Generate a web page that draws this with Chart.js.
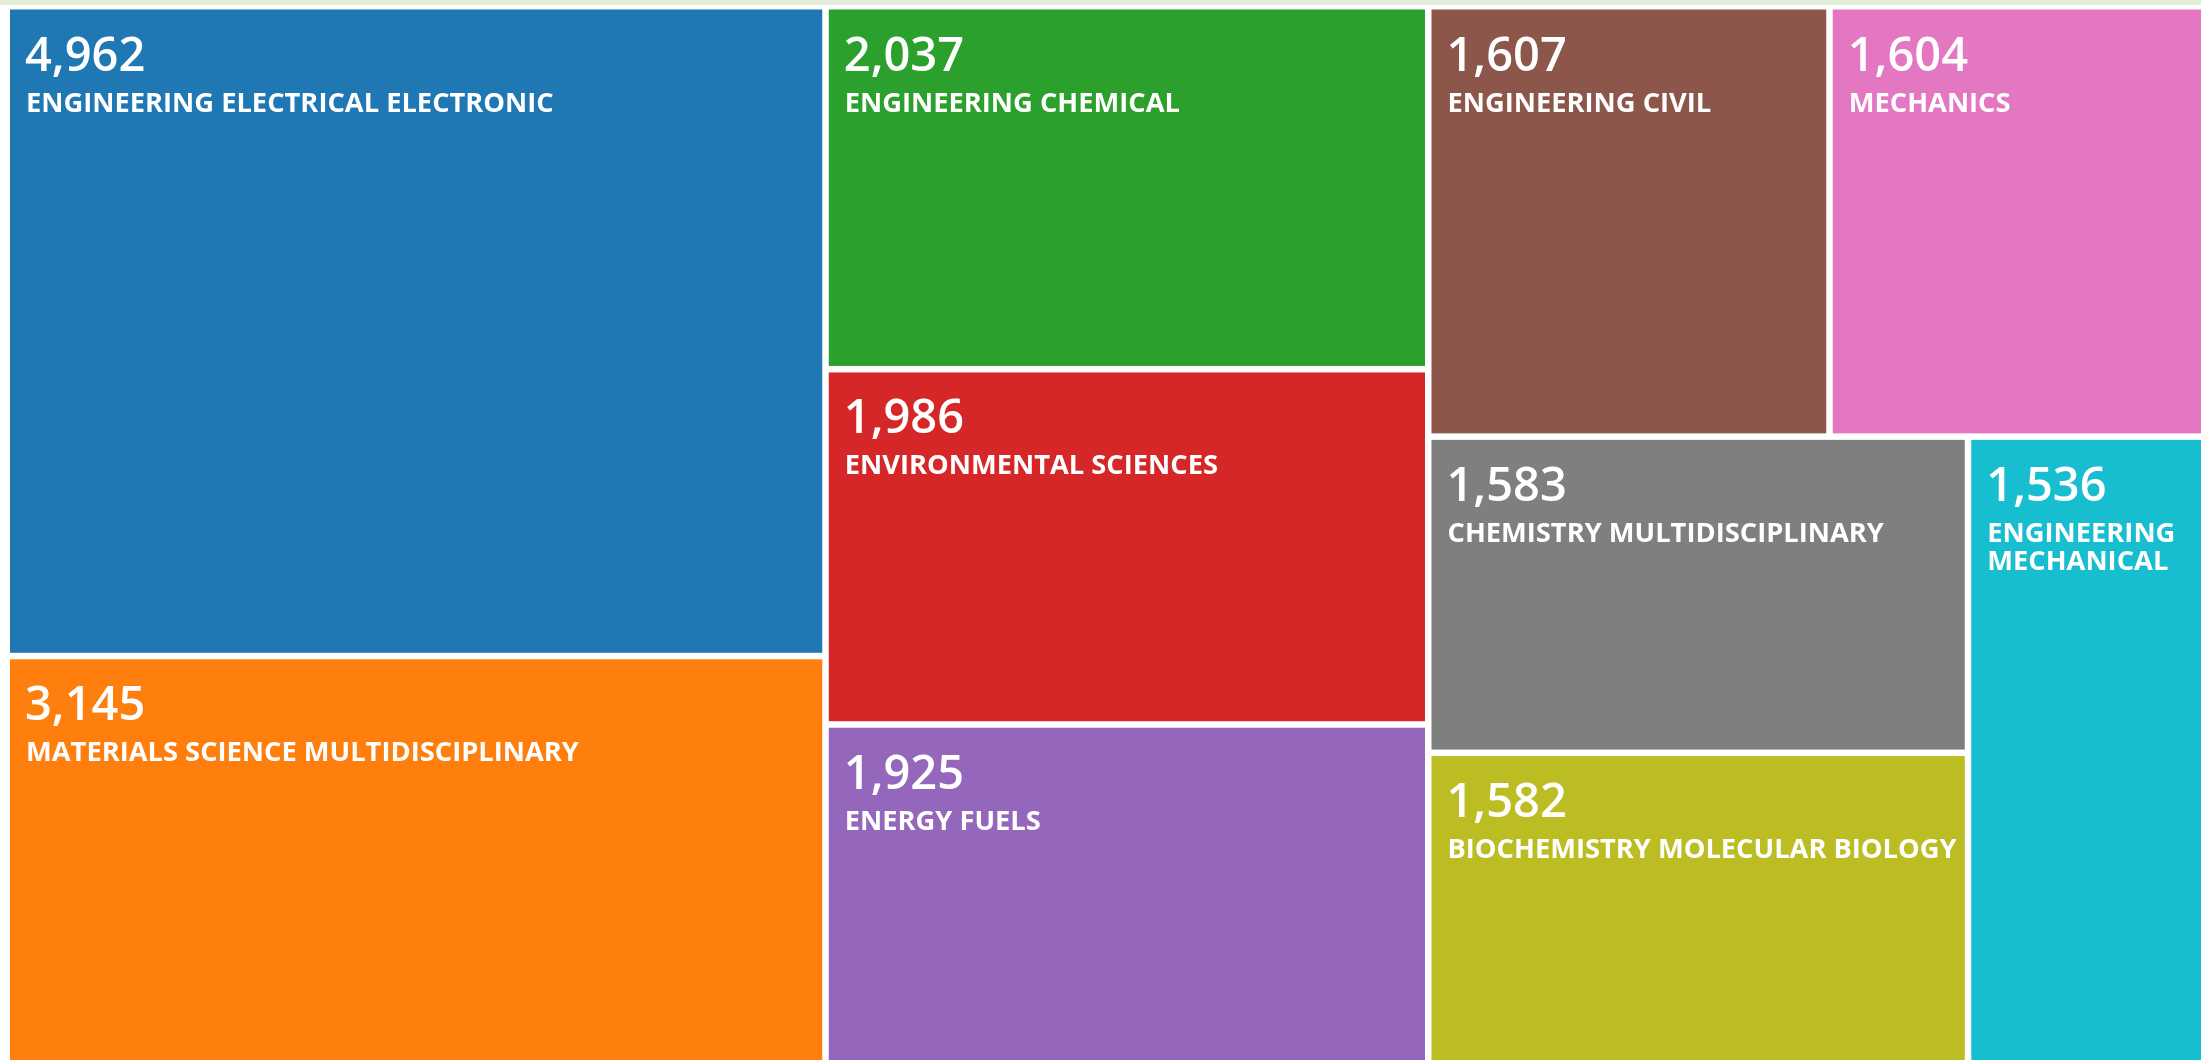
<!DOCTYPE html>
<html>
<head>
<meta charset="utf-8">
<script src="https://cdn.jsdelivr.net/npm/chart.js@4.4.1/dist/chart.umd.min.js"></script>
<style>
  html, body { margin: 0; padding: 0; background: #fff; overflow: hidden; }
  #wrap { position: absolute; left: 0; top: 0; width: 2240px; height: 1080px; }
  #strip { position: absolute; left: 0; top: 0; width: 2201px; height: 5px; background: #e2eed9; }
</style>
</head>
<body>
<div id="wrap"><canvas id="treemap" width="2240" height="1080"></canvas></div>
<div id="strip"></div>
<script>
// Web of Science categories and record counts
const categories = [
  'ENGINEERING ELECTRICAL ELECTRONIC',
  'MATERIALS SCIENCE MULTIDISCIPLINARY',
  'ENGINEERING CHEMICAL',
  'ENVIRONMENTAL SCIENCES',
  'ENERGY FUELS',
  'ENGINEERING CIVIL',
  'MECHANICS',
  'CHEMISTRY MULTIDISCIPLINARY',
  'BIOCHEMISTRY MOLECULAR BIOLOGY',
  'ENGINEERING MECHANICAL'
];
const counts = [4962, 3145, 2037, 1986, 1925, 1607, 1604, 1583, 1582, 1536];
const tileColors = ['#1f77b4', '#ff7f0e', '#2ca02c', '#d62728', '#9467bd',
                    '#8c564b', '#e377c2', '#7f7f7f', '#bcbd22', '#17becf'];

// squarified layout (same rule as d3.treemapSquarify, golden ratio)
function squarify(values, x0, y0, x1, y1) {
  const ratio = (1 + Math.sqrt(5)) / 2;
  const boxes = [];
  const n = values.length;
  let total = values.reduce((a, b) => a + b, 0);
  let i0 = 0;
  while (i0 < n) {
    const dx = x1 - x0, dy = y1 - y0;
    let i1 = i0;
    let sum = values[i1++];
    let minV = sum, maxV = sum;
    const alpha = Math.max(dy / dx, dx / dy) / (total * ratio);
    let beta = sum * sum * alpha;
    let minRatio = Math.max(maxV / beta, beta / minV);
    for (; i1 < n; ++i1) {
      const v = values[i1];
      sum += v;
      if (v < minV) minV = v;
      if (v > maxV) maxV = v;
      beta = sum * sum * alpha;
      const r = Math.max(maxV / beta, beta / minV);
      if (r > minRatio) { sum -= v; break; }
      minRatio = r;
    }
    if (dx < dy) {
      const h = dy * sum / total;
      let x = x0;
      for (let i = i0; i < i1; i++) {
        const w = dx * values[i] / sum;
        boxes[i] = { x0: x, y0: y0, x1: x + w, y1: y0 + h };
        x += w;
      }
      y0 += h;
    } else {
      const w = dx * sum / total;
      let y = y0;
      for (let i = i0; i < i1; i++) {
        const h = dy * values[i] / sum;
        boxes[i] = { x0: x0, y0: y, x1: x0 + w, y1: y + h };
        y += h;
      }
      x0 += w;
    }
    total -= sum;
    i0 = i1;
  }
  return boxes;
}

function wrapWords(ctx, text, maxWidth) {
  const words = text.split(' ');
  const lines = [];
  let line = '';
  words.forEach(function (word) {
    const test = line ? line + ' ' + word : word;
    if (line && ctx.measureText(test).width > maxWidth) {
      lines.push(line);
      line = word;
    } else {
      line = test;
    }
  });
  if (line) lines.push(line);
  return lines;
}

class TileElement extends Chart.Element {
  draw(ctx) {
    const gap = 3.25;
    const padL = this.atLeft ? 6 : gap, padT = this.atTop ? 4.7 : gap;
    const x = this.x + padL, y = this.y + padT;
    const w = this.width - padL - gap, h = this.height - padT - gap;
    if (!(w > 0 && h > 0)) return;
    ctx.save();
    ctx.fillStyle = this.color;
    ctx.fillRect(x, y, w, h);
    ctx.beginPath();
    ctx.rect(x, y, w, h);
    ctx.clip();
    ctx.fillStyle = '#ffffff';
    ctx.textAlign = 'left';
    ctx.textBaseline = 'alphabetic';
    ctx.font = '600 47px "Open Sans"';
    ctx.fillText(this.value.toLocaleString('en-US'), x + 15, y + 61);
    ctx.font = 'bold 27.3px "Open Sans"';
    const lines = wrapWords(ctx, this.label, w - 20);
    lines.forEach(function (ln, k) {
      ctx.fillText(ln, x + 16, y + 102 + k * 27.7);
    });
    ctx.restore();
  }
}
TileElement.id = 'tile';
TileElement.defaults = {};

class TreemapController extends Chart.DatasetController {
  parse(start, count) {
    const meta = this._cachedMeta;
    const data = this.getDataset().data;
    for (let i = start; i < start + count; i++) {
      meta._parsed[i] = { v: +data[i] };
    }
  }
  update(mode) {
    const meta = this._cachedMeta;
    this.updateElements(meta.data, 0, meta.data.length, mode);
  }
  updateElements(tiles, start, count, mode) {
    const meta = this._cachedMeta;
    const xScale = meta.xScale, yScale = meta.yScale;
    const dataset = this.getDataset();
    const labels = this.chart.data.labels;
    const left = xScale.getPixelForValue(0), right = xScale.getPixelForValue(1);
    const top = yScale.getPixelForValue(0), bottom = yScale.getPixelForValue(1);
    const boxes = squarify(dataset.data.map(Number), left, top, right, bottom);
    for (let i = start; i < start + count; i++) {
      const b = boxes[i];
      this.updateElement(tiles[i], i, {
        x: b.x0, y: b.y0,
        width: b.x1 - b.x0, height: b.y1 - b.y0,
        atLeft: Math.abs(b.x0 - left) < 0.5,
        atTop: Math.abs(b.y0 - top) < 0.5,
        color: dataset.backgroundColor[i],
        value: +dataset.data[i],
        label: labels[i]
      }, mode);
    }
  }
}
TreemapController.id = 'treemap';
TreemapController.defaults = { datasetElementType: false, dataElementType: 'tile' };
TreemapController.overrides = {};

Chart.register(TileElement, TreemapController);

new Chart(document.getElementById('treemap'), {
  type: 'treemap',
  data: {
    labels: categories,
    datasets: [{
      label: 'Records',
      data: counts,
      backgroundColor: tileColors
    }]
  },
  options: {
    responsive: false,
    animation: false,
    events: [],
    layout: { padding: { left: 4, top: 4.8, right: 10, bottom: 11.2 } },
    scales: {
      x: { type: 'linear', display: false, min: 0, max: 1 },
      y: { type: 'linear', display: false, min: 0, max: 1, reverse: true }
    },
    plugins: {
      legend: { display: false },
      tooltip: { enabled: false }
    }
  }
});
</script>
</body>
</html>
